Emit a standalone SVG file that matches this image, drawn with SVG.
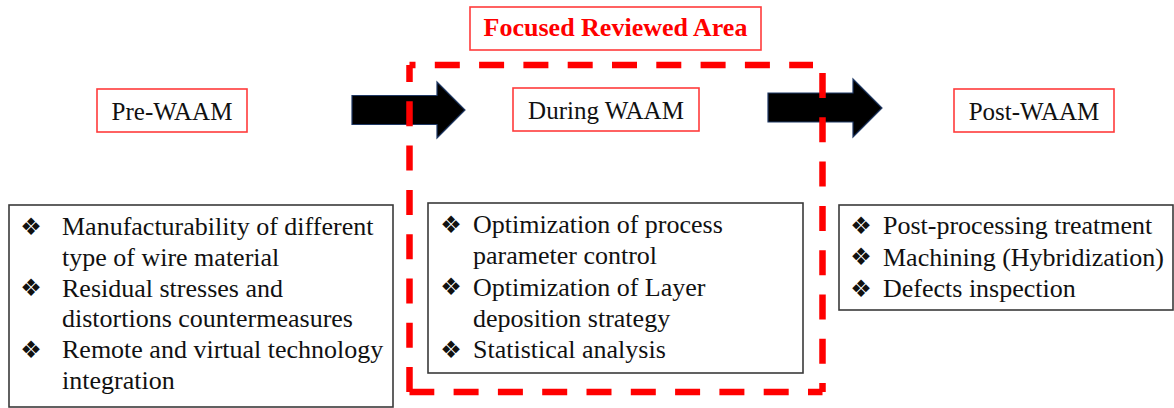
<svg xmlns="http://www.w3.org/2000/svg" width="1174" height="408" viewBox="0 0 1174 408">
  <style>
    .stage { fill: #ffffff; stroke: #ff3b3b; stroke-width: 1.6; }
    .stage-text { font-family: "Liberation Serif", "Times New Roman", serif; font-size: 25px; fill: #111111; text-anchor: middle; }
    .list { fill: #ffffff; stroke: #3a3a3a; stroke-width: 1.6; }
    .item { font-family: "Liberation Serif", "Times New Roman", serif; font-size: 26px; fill: #111111; }
    .bullet { font-family: "DejaVu Sans", sans-serif; font-size: 24px; fill: #111111; text-anchor: middle; dominant-baseline: central; }
    .flow { fill: #000000; stroke: #1f3864; stroke-width: 1.2; stroke-linejoin: miter; }
    .area { fill: none; stroke: #ff0000; stroke-width: 6.5; stroke-dasharray: 25 19.3; }
    .title { font-family: "Liberation Serif", "Times New Roman", serif; font-size: 26px; font-weight: bold; fill: #ff0000; text-anchor: middle; }
  </style>

  <rect width="1174" height="408" fill="#ffffff"/>

  <!-- stage labels -->
  <g id="pre-waam">
    <rect class="stage" x="97" y="89" width="150" height="43"/>
    <text class="stage-text" x="172" y="120">Pre-WAAM</text>
  </g>
  <g id="during-waam">
    <rect class="stage" x="513" y="88" width="186" height="43"/>
    <text class="stage-text" x="606" y="119">During WAAM</text>
  </g>
  <g id="post-waam">
    <rect class="stage" x="954" y="89" width="160" height="43"/>
    <text class="stage-text" x="1034" y="120">Post-WAAM</text>
  </g>

  <!-- block arrows between stages -->
  <g id="connectors">
    <path class="flow" d="M352 95.5 H437 V82 L465 110 L437 138 V124.5 H352 Z"/>
    <path class="flow" d="M768 93 H853 V79 L882 108 L853 137 V122 H768 Z"/>
  </g>

  <!-- topic lists -->
  <g id="pre-list">
    <rect class="list" x="9" y="205" width="384" height="202"/>
    <text class="bullet" x="31" y="226.5">❖</text>
    <text class="bullet" x="31" y="288">❖</text>
    <text class="bullet" x="31" y="349.5">❖</text>
    <text class="item" x="62" y="235">Manufacturability of different</text>
    <text class="item" x="62" y="265.8">type of wire material</text>
    <text class="item" x="62" y="296.6">Residual stresses and</text>
    <text class="item" x="62" y="327.4">distortions countermeasures</text>
    <text class="item" x="62" y="358.2">Remote and virtual technology</text>
    <text class="item" x="62" y="389">integration</text>
  </g>
  <g id="during-list">
    <rect class="list" x="428" y="203" width="375" height="170"/>
    <text class="bullet" x="451" y="224.5">❖</text>
    <text class="bullet" x="451" y="287">❖</text>
    <text class="bullet" x="451" y="349.5">❖</text>
    <text class="item" x="473" y="233">Optimization of process</text>
    <text class="item" x="473" y="264.2">parameter control</text>
    <text class="item" x="473" y="295.5">Optimization of Layer</text>
    <text class="item" x="473" y="326.8">deposition strategy</text>
    <text class="item" x="473" y="358">Statistical analysis</text>
  </g>
  <g id="post-list">
    <rect class="list" x="839" y="205" width="334" height="105"/>
    <text class="bullet" x="861" y="225.5">❖</text>
    <text class="bullet" x="861" y="257">❖</text>
    <text class="bullet" x="861" y="288.5">❖</text>
    <text class="item" x="883" y="234">Post-processing treatment</text>
    <text class="item" x="883" y="265.5">Machining (Hybridization)</text>
    <text class="item" x="883" y="297">Defects inspection</text>
  </g>

  <!-- highlighted review area -->
  <g id="focus-area">
    <path class="area" d="M409.5 65 V392" stroke-dashoffset="8"/>
    <path class="area" d="M409.5 65 H813" stroke-dashoffset="19"/>
    <path class="area" d="M822.5 73 V392"/>
    <path class="area" d="M822.5 392 H409.5" stroke-dashoffset="10.5"/>
  </g>
  <g id="focus-label">
    <rect class="stage" x="470" y="7" width="291" height="43"/>
    <text class="title" x="615.5" y="36">Focused Reviewed Area</text>
  </g>
</svg>
